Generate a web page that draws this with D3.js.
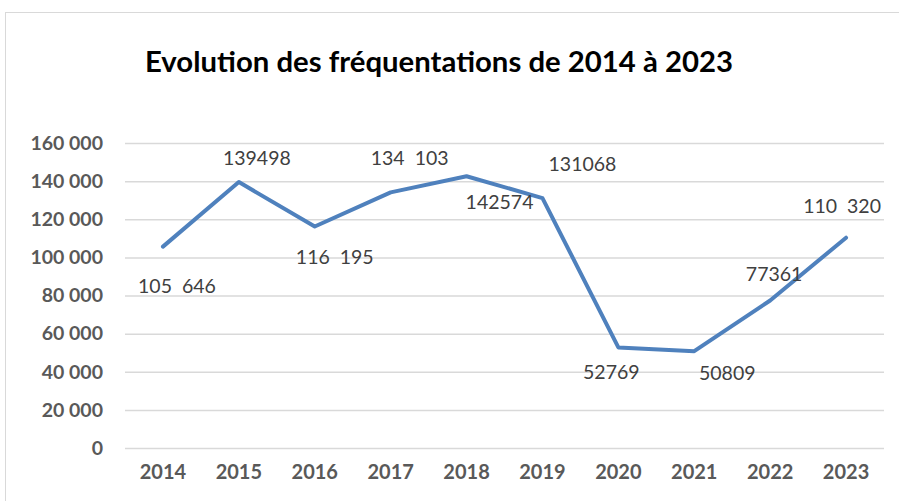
<!DOCTYPE html>
<html>
<head>
<meta charset="utf-8">
<script src="https://cdn.jsdelivr.net/npm/d3@7"></script>
<style>
  body { margin: 0; background: #fff; }
  svg { display: block; font-family: Lato, "Open Sans", sans-serif; }
</style>
</head>
<body>
<div id="chart"></div>
<script>
// data
const years = ["2014", "2015", "2016", "2017", "2018", "2019", "2020", "2021", "2022", "2023"];
const visits = [105646, 139498, 116195, 134103, 142574, 131068, 52769, 50809, 77361, 110320];
const valueLabels = ["105  646", "139498", "116  195", "134  103", "142574", "131068", "52769", "50809", "77361", "110  320"];
const yTicks = [0, 20000, 40000, 60000, 80000, 100000, 120000, 140000, 160000];

// label offsets from point (manual placement like in the original)
const labelDx = [14, 18, 20, 19, 33, 40, -7, 33, 4, -4];
const labelDy = [40, -24, 31, -34, 26, -34, 25, 22, -26, -32];

const width = 899, height = 501;
const plotLeft = 125, plotRight = 884, plotTop = 143, plotBottom = 448;

const svg = d3.select('#chart').append('svg')
  .attr('width', width)
  .attr('height', height);

// chart area border
svg.append('rect')
  .attr('x', 5.5).attr('y', 12.5)
  .attr('width', 920).attr('height', 520)
  .attr('fill', 'none')
  .attr('stroke', '#d9d9d9');

svg.append('text')
  .attr('x', 145).attr('y', 72)
  .attr('font-size', 28).attr('font-weight', 'bold')
  .attr('textLength', 588).attr('lengthAdjust', 'spacingAndGlyphs')
  .attr('fill', '#000')
  .text('Evolution des fréquentations de 2014 à 2023');

const x = d3.scaleBand().domain(years).range([plotLeft, plotRight]);
const y = d3.scaleLinear().domain([0, 160000]).range([plotBottom, plotTop]);

const fmt = v => d3.format(',')(v).replace(/,/g, ' ');

// gridlines
svg.append('g')
  .attr('transform', `translate(${plotLeft},0)`)
  .call(d3.axisLeft(y).tickValues(yTicks).tickSize(-(plotRight - plotLeft)).tickFormat(''))
  .call(g => g.select('.domain').remove())
  .call(g => g.selectAll('line').attr('stroke', '#d9d9d9').attr('stroke-width', 1.5));

// y labels
svg.append('g')
  .attr('transform', `translate(${plotLeft},0)`)
  .call(d3.axisLeft(y).tickValues(yTicks).tickSize(0).tickPadding(22).tickFormat(fmt))
  .call(g => g.select('.domain').remove())
  .call(g => g.selectAll('text')
    .attr('font-size', 19.5).attr('font-weight', 'bold').attr('fill', '#595959')
    .attr('font-family', 'Lato, sans-serif'));

// x labels
svg.append('g')
  .attr('transform', `translate(0,${plotBottom})`)
  .call(d3.axisBottom(x).tickSize(0).tickPadding(17))
  .call(g => g.select('.domain').remove())
  .call(g => g.selectAll('text')
    .attr('font-size', 20).attr('font-weight', 'bold').attr('fill', '#595959')
    .attr('font-family', 'Lato, sans-serif'));

const cx = (d, i) => x(years[i]) + x.bandwidth() / 2;

const line = d3.line()
  .x((d, i) => cx(d, i))
  .y(d => y(d));

svg.append('path')
  .datum(visits)
  .attr('d', line)
  .attr('fill', 'none')
  .attr('stroke', '#4f81bd')
  .attr('stroke-width', 4)
  .attr('stroke-linejoin', 'round')
  .attr('stroke-linecap', 'round');

svg.selectAll('.vlabel')
  .data(visits)
  .enter().append('text')
  .attr('class', 'vlabel')
  .attr('x', (d, i) => cx(d, i) + labelDx[i])
  .attr('y', (d, i) => y(d) + labelDy[i])
  .attr('dy', '0.35em')
  .attr('text-anchor', 'middle')
  .attr('font-size', 19.5)
  .attr('fill', '#404040')
  .style('white-space', 'pre')
  .text((d, i) => valueLabels[i]);
</script>
</body>
</html>
